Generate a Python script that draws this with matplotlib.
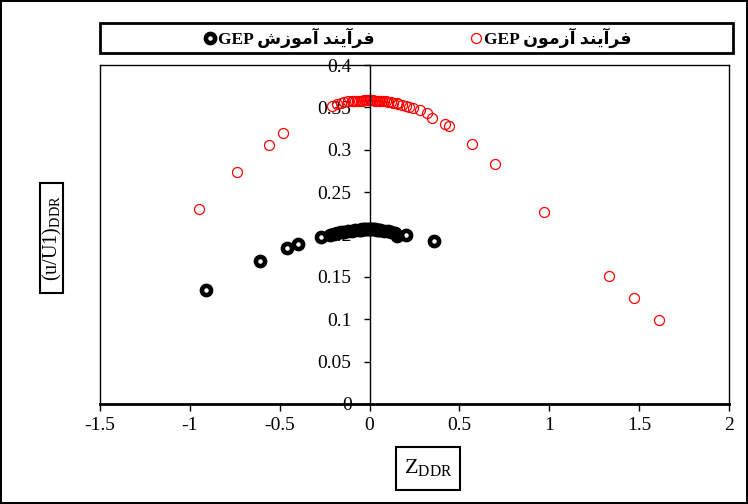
import matplotlib
matplotlib.use('Agg')
import matplotlib.pyplot as plt
from matplotlib.patches import Rectangle
from matplotlib.lines import Line2D
from matplotlib.ticker import FuncFormatter

plt.rcParams['axes.unicode_minus'] = False
plt.rcParams['mathtext.fontset'] = 'custom'
plt.rcParams['mathtext.rm'] = 'Liberation Serif'
plt.rcParams['mathtext.it'] = 'Liberation Serif:italic'

# GEP training (black) and testing (red) points
train_x = [-0.91, -0.61, -0.46, -0.40, -0.27,
           -0.22, -0.20, -0.18, -0.16, -0.14, -0.12, -0.10, -0.08, -0.06, -0.05,
           -0.04, -0.03, -0.02, -0.01, 0.00, 0.01, 0.02, 0.03, 0.04, 0.05,
           0.06, 0.08, 0.10, 0.12, 0.14,
           0.15, 0.20, 0.36]
train_y = [0.135, 0.169, 0.184, 0.189, 0.197,
           0.200, 0.201, 0.202, 0.203, 0.203, 0.204, 0.204, 0.205, 0.205, 0.205,
           0.206, 0.206, 0.206, 0.206, 0.206, 0.206, 0.206, 0.206, 0.205, 0.205,
           0.205, 0.204, 0.204, 0.203, 0.202,
           0.198, 0.200, 0.192]

test_x = [-0.95, -0.74, -0.56, -0.48,
          -0.21, -0.18, -0.16, -0.14, -0.12, -0.10, -0.09, -0.08, -0.07, -0.06,
          -0.05, -0.04, -0.03, -0.02, -0.01, 0.00, 0.01, 0.02, 0.03, 0.04,
          0.05, 0.06, 0.07, 0.08, 0.09, 0.10, 0.12, 0.13, 0.15, 0.16,
          0.18, 0.20, 0.22, 0.24, 0.28, 0.32,
          0.35, 0.42, 0.44, 0.57, 0.70, 0.97, 1.33, 1.47, 1.61]
test_y = [0.230, 0.274, 0.306, 0.320,
          0.352, 0.354, 0.355, 0.356, 0.357, 0.357, 0.357, 0.358, 0.358, 0.358,
          0.358, 0.358, 0.359, 0.359, 0.359, 0.359, 0.359, 0.359, 0.358, 0.358,
          0.358, 0.358, 0.357, 0.357, 0.357, 0.356, 0.356, 0.355, 0.355, 0.354,
          0.353, 0.352, 0.351, 0.349, 0.347, 0.343,
          0.337, 0.330, 0.328, 0.307, 0.283, 0.227, 0.151, 0.125, 0.099]

xticks = [-1.5, -1, -0.5, 0, 0.5, 1, 1.5, 2]
yticks = [0, 0.05, 0.1, 0.15, 0.2, 0.25, 0.3, 0.35, 0.4]

# pre-shaped Persian (visual order) so the glyphs join without a shaping engine
lbl_train = 'GEP \uFEB5\uFEAF\uFEEE\uFEE3\uFE81 \uFEAA\uFEE8\uFEF3\uFE81\uFEAE\uFED3'
lbl_test = 'GEP \uFEE5\uFEEE\uFEE3\uFEAF\uFE81 \uFEAA\uFEE8\uFEF3\uFE81\uFEAE\uFED3'

serif = ['Liberation Serif', 'DejaVu Sans']

fig = plt.figure(figsize=(7.48, 5.04), dpi=100)
fig.patch.set_edgecolor('black')
fig.patch.set_linewidth(1.5)
ax = fig.add_axes([100/748, 1-404/504, 629/748, 339/504])

ax.plot(train_x, train_y, 'o', ls='none', mfc='none', mec='black', ms=6.6, mew=3.3)
ax.plot(test_x, test_y, 'o', ls='none', mfc='none', mec='red', ms=7.2, mew=0.9)

ax.set_xlim(-1.5, 2)
ax.set_ylim(0, 0.4)
ax.set_xticks(xticks)
ax.set_yticks(yticks)
ax.xaxis.set_major_formatter(FuncFormatter(lambda v, p: '%g' % v))
ax.yaxis.set_major_formatter(FuncFormatter(lambda v, p: '%g' % v))

ax.spines['left'].set_position(('data', 0))
ax.spines['left'].set_linewidth(1)
ax.spines['bottom'].set_linewidth(2)
ax.spines['top'].set_linewidth(1)
ax.spines['right'].set_linewidth(1)
ax.axvline(-1.5, color='black', lw=1, clip_on=False)

ax.tick_params(axis='x', direction='out', length=5, width=1, pad=4, labelsize=14)
ax.tick_params(axis='y', direction='out', length=4, width=1, pad=9, labelsize=14)
for t in ax.get_xticklabels() + ax.get_yticklabels():
    t.set_fontfamily('Liberation Serif')

# axis titles in boxes
fig.add_artist(Rectangle((40/748, 1-293/504), 23/748, 110/504, transform=fig.transFigure,
                         fc='white', ec='black', lw=1.5))
fig.text(52/748, 1-238/504, r'$\mathrm{(u/U1)_{DDR}}$', rotation=90,
         ha='center', va='center', fontsize=14.5)
fig.add_artist(Rectangle((396/748, 1-490/504), 64/748, 43/504, transform=fig.transFigure,
                         fc='white', ec='black', lw=1.5))
fig.text(428/748, 1-467/504, r'$\mathrm{Z_{DDR}}$', ha='center', va='center', fontsize=16)

# legend
handles = [Line2D([], [], marker='o', ls='none', mfc='none', mec='black', ms=6.6, mew=3.3),
           Line2D([], [], marker='o', ls='none', mfc='none', mec='red', ms=7.2, mew=0.9)]
leg = fig.legend(handles, [lbl_train, lbl_test], loc='center', ncol=2,
                 bbox_to_anchor=(418/748, 1-38/504), frameon=False,
                 handlelength=0.7, handletextpad=0.1, columnspacing=5.5,
                 prop={'family': serif, 'weight': 'bold', 'size': 12.5})
fig.add_artist(Rectangle((100/748, 1-53/504), 633/748, 30/504, transform=fig.transFigure,
                         fill=False, ec='black', lw=2))

fig.savefig('out.png', dpi=100)
